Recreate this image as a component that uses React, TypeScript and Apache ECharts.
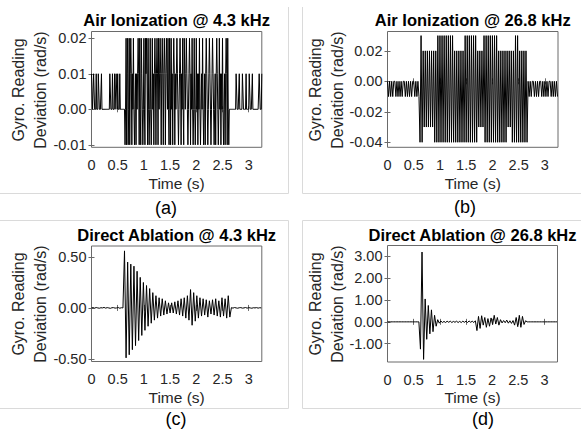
import React, { useEffect, useRef } from "react";
import * as echarts from "echarts";

const FONT = '"Liberation Sans", Arial, Helvetica, sans-serif';

// Time axis
const TIME_TICKS = [0, 0.5, 1, 1.5, 2, 2.5, 3];
const TIME_MAX = 3.25;

// Sampling step of each recorded series (s)
const STEP_AIR_43 = 0.01;
const STEP_AIR_268 = 0.02;
const STEP_ABL = 0.03;

// (a) Air Ionization @ 4.3 kHz  (rad/s)
const airIon43k = [
  // quiet, 0 - 0.63 s
  0.01, 0.01, 0, 0, 0.01, 0.01, 0, 0, 0, 0.01,
  0, 0, 0, 0.01, 0.01, 0, 0, 0, 0, 0.01,
  0, 0, 0, 0, 0, 0, 0, 0, 0, 0,
  0, 0, 0, 0, 0, 0.01, 0.01, 0, 0, 0,
  0.01, 0, 0, 0, 0.01, 0, 0, 0.01, 0.01, 0,
  0.01, 0, 0, 0, 0.01, 0, 0, 0, 0, 0,
  0, 0, 0, 0,
  // active, 0.64 - 2.63 s
  -0.01, 0, 0.02, -0.01, 0.01, 0.02, -0.01, 0, 0.02, -0.01,
  0.01, 0.02, 0.01, -0.01, 0.01, 0, 0.02, 0, -0.01, 0,
  0.01, -0.01, 0.01, 0, 0.01, 0.02, 0.01, -0.01, 0.02, 0,
  -0.01, 0.02, 0.01, 0, -0.01, 0, 0.02, 0, -0.01, 0.02,
  0.01, 0.02, 0.01, -0.01, 0.02, 0, -0.01, 0, 0.02, 0,
  -0.01, 0, 0.02, 0, 0.01, -0.01, 0.01, 0.02, 0.01, -0.01,
  0.01, 0.02, 0.01, -0.01, 0.02, 0, 0.01, 0.02, 0.01, -0.01,
  0.01, 0.02, 0.01, -0.01, 0.01, 0.02, 0.01, -0.01, 0.01, 0.02,
  0.01, 0, 0.02, 0, -0.01, 0.02, 0.01, -0.01, 0.02, 0,
  0.01, -0.01, 0.01, 0.02, 0.01, -0.01, 0.01, 0, 0.01, 0.02,
  0.01, 0, -0.01, 0, 0.01, 0.02, 0.01, -0.01, 0.01, 0,
  0.02, 0, -0.01, 0.02, 0.01, 0, 0.01, 0.02, 0.01, 0,
  -0.01, 0, 0.01, 0.02, 0.01, -0.01, 0.01, 0, 0.02, 0,
  -0.01, 0, 0.02, 0, -0.01, 0, 0.02, 0, 0.01, -0.01,
  0.01, 0, 0.02, 0, -0.01, 0, 0.01, 0, 0.02, 0,
  -0.01, 0, 0.01, -0.01, 0.01, 0.02, 0.01, 0, -0.01, 0,
  0.01, 0.02, 0.01, 0, -0.01, 0, 0.01, 0.02, 0.01, 0,
  -0.01, 0, 0.01, -0.01, 0.01, 0.02, 0.01, 0, -0.01, 0,
  0.02, 0, 0.01, -0.01, 0.01, 0, 0.02, 0, -0.01, 0,
  0.01, -0.01, 0.01, 0.02, 0.01, -0.01, 0.02, 0, -0.01, 0,
  // quiet, 2.64 - 3.25 s
  0, 0, 0, 0, 0, 0, 0, 0, 0, 0,
  0, 0, 0.01, 0.01, 0, 0, 0, 0, 0.01, 0,
  0, 0, 0, 0, 0.01, 0.01, 0, 0, 0, 0,
  0, 0.01, 0, 0, 0, 0, 0, 0.01, 0.01, 0,
  0, 0, 0, 0.01, 0, 0, 0, 0, 0, 0,
  0, 0, 0, 0, 0, 0, 0.01, 0.01, 0, 0,
  0, 0.01,
];

// (b) Air Ionization @ 26.8 kHz  (rad/s)
const airIon268k = [
  0, -0.01, 0, -0.01, 0, -0.01, 0, 0, -0.01, 0,
  -0.01, 0, -0.01, 0, -0.01, 0, 0, -0.01, 0, -0.01,
  0, -0.01, 0, -0.01, 0, 0, -0.01, 0, -0.01, 0, -0.01,
  -0.04, 0.03, -0.04,
  0.02, -0.03, 0.02, -0.03, 0.02, -0.03, 0.02, -0.03, 0.02, -0.03, 0.02,
  -0.04, 0.02, -0.04,
  0.03, -0.04, 0.03, -0.04, 0.03, -0.04, 0.03, -0.04, 0.03, -0.04, 0.03, -0.04, 0.03, -0.04, 0.03, -0.04,
  0.02, -0.04, 0.02, -0.04, 0.02, -0.04, 0.02, -0.04, 0.02, -0.04,
  0.03, -0.04, 0.03, -0.04, 0.03, -0.04, 0.03, -0.04, 0.03, -0.04, 0.03, -0.04,
  0.02, -0.03, 0.02, -0.03, 0.02, -0.03,
  0.03, -0.04, 0.03, -0.04, 0.03, -0.04, 0.03, -0.04, 0.03, -0.04, 0.03, -0.04, 0.03, -0.04,
  0.02, -0.04, 0.02, -0.04, 0.02, -0.04, 0.02, -0.04,
  0.02, -0.03, 0.02, -0.03, 0.02,
  -0.04, 0.02, -0.04,
  0.03, -0.04, 0.03, -0.04,
  0.02, -0.04, 0.02, -0.04, 0.02, -0.04,
  0.02, -0.04,
  0, -0.01, 0, -0.01, 0, 0, -0.01, 0, -0.01, 0,
  -0.01, 0, 0, -0.01, 0, -0.01, 0, -0.01, 0, -0.01,
  0, 0, -0.01, 0, -0.01, 0, -0.01, 0, -0.01,
];

// (c) Direct Ablation @ 4.3 kHz  (rad/s)
const directAbl43k = [
  0, 0.003, -0.002, 0.004, 0, -0.003, 0.002, 0, 0.005, -0.002,
  0.003, 0, -0.004, 0.002, 0.003, -0.002, 0, 0.004, -0.003, 0.002, 0,
  0.56, -0.49, 0.45, -0.46, 0.43, -0.41, 0.41, -0.37, 0.36, -0.32,
  0.30, -0.27, 0.25, -0.22, 0.22, -0.18, 0.19, -0.15, 0.15, -0.12,
  0.12, -0.10, 0.10, -0.08, 0.09, -0.07, 0.07, -0.06, 0.05, -0.05,
  0.05, -0.05, 0.06, -0.06, 0.07, -0.07, 0.09, -0.08, 0.10, -0.10,
  0.12, -0.12, 0.18, -0.17, 0.15, -0.13, 0.12, -0.10, 0.10, -0.08,
  0.09, -0.07, 0.08, -0.09, 0.07, -0.06, 0.08, -0.07, 0.09, -0.08,
  0.07, -0.09, 0.10, -0.08, 0.09, -0.10, 0.12, -0.09,
  0.003, -0.002, 0.004, 0, -0.003, 0.002, 0.003, -0.002, 0, 0.004,
  -0.002, 0.003, 0, -0.003, 0.002, 0, 0.003, -0.002, 0.002, 0,
];

// (d) Direct Ablation @ 26.8 kHz  (rad/s)
const directAbl268k = [
  0, 0, 0, 0, 0, 0, 0, 0, 0, 0,
  0, 0, 0, 0, 0, 0, 0, 0, 0, 0, 0,
  -1.25, 3.2, -1.72, 1.05, -0.8, 0.75, -0.55, 0.55, -0.45, 0.3, -0.2, 0.1, -0.06, 0.04,
  -0.03, 0.02, -0.03, 0.03, -0.02, 0.03, -0.03, 0.02, -0.02, 0.03,
  -0.03, 0.02, -0.03, 0.03, -0.02, 0.03, -0.03, 0.04, -0.02, 0.03, -0.03,
  0.05, -0.4, 0.25, -0.3, 0.28, -0.15, 0.2, -0.25, 0.15, -0.2, 0.18, -0.12, 0.3, -0.1, 0.2, -0.15, 0.1,
  -0.05, 0.06, -0.04, 0.08, -0.06, 0.05, -0.07, 0.06,
  -0.15, 0.2, -0.22, 0.3, -0.25, 0.25, -0.12, 0.05,
  0, 0, 0, 0, 0, 0, 0, 0, 0, 0,
  0, 0, 0, 0, 0, 0, 0, 0, 0, 0,
];

// Y tick values
const yTicksA = [-0.01, 0, 0.01, 0.02];
const yTicksB = [-0.04, -0.02, 0, 0.02];
const yTicksC = [-0.5, 0, 0.5];
const yTicksD = [-1, 0, 1, 2, 3];

const titles = [
  "Air Ionization @ 4.3 kHz",
  "Air Ionization @ 26.8 kHz",
  "Direct Ablation @ 4.3 kHz",
  "Direct Ablation @ 26.8 kHz",
];
const letters = ["(a)", "(b)", "(c)", "(d)"];
const Y_NAME = ["Gyro. Reading", "Deviation (rad/s)"];
const X_NAME = "Time (s)";

const seriesValues = [airIon43k, airIon268k, directAbl43k, directAbl268k];
const seriesSteps = [STEP_AIR_43, STEP_AIR_268, STEP_ABL, STEP_ABL];
const seriesYTicks = [yTicksA, yTicksB, yTicksC, yTicksD];

// Layout (pixels) and axis extents
const layout = [
  { left: 91.5, top: 31.5, width: 170.3, height: 115.8, yMin: -0.0107, yMax: 0.0219, letterX: 166, letterY: 208, titleY: 20, xNameY: 183, yNameX: [18, 40], yNameY: 90 },
  { left: 387.5, top: 31.5, width: 170.5, height: 115.8, yMin: -0.0433, yMax: 0.0327, letterX: 465, letterY: 207, titleY: 20, xNameY: 183, yNameX: [315, 337], yNameY: 90 },
  { left: 91.5, top: 246, width: 170.3, height: 115.5, yMin: -0.526, yMax: 0.608, letterX: 176, letterY: 419, titleY: 235, xNameY: 397.5, yNameX: [18, 40], yNameY: 304 },
  { left: 387.5, top: 245.5, width: 170, height: 116.5, yMin: -1.84, yMax: 3.5, letterX: 483, letterY: 419, titleY: 234.5, xNameY: 397.5, yNameX: [315, 337], yNameY: 304 },
];

const AXIS_COLOR = "#262626";
const FRAME_COLOR = "#6a6a6a";
const SEP_COLOR = "#dadada";

function txt(text: string, x: number, y: number, font: string, fill: string, rotation = 0) {
  return {
    type: "text",
    x,
    y,
    rotation,
    silent: true,
    style: {
      text,
      font,
      fill,
      align: "center",
      verticalAlign: "middle",
      textAlign: "center",
      textVerticalAlign: "middle",
    },
  };
}

function line(x1: number, y1: number, x2: number, y2: number) {
  return {
    type: "line",
    silent: true,
    shape: { x1, y1, x2, y2 },
    style: { stroke: SEP_COLOR, lineWidth: 1 },
  };
}

export default function App() {
  const ref = useRef<HTMLDivElement>(null);

  useEffect(() => {
    if (!ref.current) return;
    const chart = echarts.init(ref.current, null, { renderer: "svg" });

    const grids: any[] = [];
    const xAxes: any[] = [];
    const yAxes: any[] = [];
    const series: any[] = [];
    const graphics: any[] = [];

    layout.forEach((L, k) => {
      const yTicks = seriesYTicks[k];
      grids.push({
        left: L.left,
        top: L.top,
        width: L.width,
        height: L.height,
        show: true,
        borderColor: FRAME_COLOR,
        borderWidth: 1,
        backgroundColor: "transparent",
      });
      const tickStyle = { show: true, inside: true, length: 3, lineStyle: { color: FRAME_COLOR, width: 1 } };
      xAxes.push({
        type: "value",
        gridIndex: k,
        position: "bottom",
        min: 0,
        max: TIME_MAX,
        axisLine: { show: false },
        axisTick: { ...tickStyle, customValues: TIME_TICKS },
        axisLabel: {
          customValues: TIME_TICKS,
          formatter: (v: number) => String(v),
          fontSize: 14.5,
          fontFamily: FONT,
          color: AXIS_COLOR,
          margin: 10,
        },
        splitLine: { show: false },
      });
      xAxes.push({
        type: "value",
        gridIndex: k,
        position: "top",
        min: 0,
        max: TIME_MAX,
        axisLine: { show: false },
        axisTick: { ...tickStyle, customValues: TIME_TICKS },
        axisLabel: { show: false },
        splitLine: { show: false },
      });
      yAxes.push({
        type: "value",
        gridIndex: k,
        position: "left",
        min: L.yMin,
        max: L.yMax,
        axisLine: { show: false },
        axisTick: { ...tickStyle, customValues: yTicks },
        axisLabel: {
          customValues: yTicks,
          formatter: (v: number) => v.toFixed(2),
          fontSize: 14.5,
          fontFamily: FONT,
          color: AXIS_COLOR,
          margin: 5,
        },
        splitLine: { show: false },
      });
      yAxes.push({
        type: "value",
        gridIndex: k,
        position: "right",
        min: L.yMin,
        max: L.yMax,
        axisLine: { show: false },
        axisTick: { ...tickStyle, customValues: yTicks },
        axisLabel: { show: false },
        splitLine: { show: false },
      });

      const step = seriesSteps[k];
      series.push({
        type: "line",
        xAxisIndex: 2 * k,
        yAxisIndex: 2 * k,
        data: seriesValues[k].map((v, i) => [+(i * step).toFixed(3), v]),
        showSymbol: false,
        symbol: "none",
        lineStyle: { color: "#000", width: 1 },
        clip: true,
        silent: true,
      });

      const cx = L.left + L.width / 2;
      graphics.push(txt(titles[k], cx, L.titleY, `bold 16.5px ${FONT}`, "#000"));
      graphics.push(txt(X_NAME, cx, L.xNameY, `15.5px ${FONT}`, AXIS_COLOR));
      graphics.push(txt(Y_NAME[0], L.yNameX[0], L.yNameY, `16px ${FONT}`, AXIS_COLOR, Math.PI / 2));
      graphics.push(txt(Y_NAME[1], L.yNameX[1], L.yNameY, `16px ${FONT}`, AXIS_COLOR, Math.PI / 2));
      graphics.push(txt(letters[k], L.letterX, L.letterY, `18px ${FONT}`, "#000"));
    });

    // light frame borders around each sub-figure
    graphics.push(line(288.5, 7, 288.5, 193.5));
    graphics.push(line(0, 193.5, 288.5, 193.5));
    graphics.push(line(302.5, 7, 302.5, 193.5));
    graphics.push(line(302.5, 193.5, 581, 193.5));
    graphics.push(line(0, 220.5, 288.5, 220.5));
    graphics.push(line(288.5, 220.5, 288.5, 408.5));
    graphics.push(line(0, 408.5, 288.5, 408.5));
    graphics.push(line(302.5, 220.5, 581, 220.5));
    graphics.push(line(302.5, 220.5, 302.5, 408.5));
    graphics.push(line(302.5, 408.5, 581, 408.5));

    chart.setOption({
      animation: false,
      backgroundColor: "#fff",
      textStyle: { fontFamily: FONT },
      grid: grids,
      xAxis: xAxes,
      yAxis: yAxes,
      series,
      graphic: { elements: graphics },
    });

    return () => chart.dispose();
  }, []);

  return (
    <div
      ref={ref}
      style={{ position: "fixed", left: 0, top: 0, width: 581, height: 430, background: "#fff" }}
    />
  );
}
